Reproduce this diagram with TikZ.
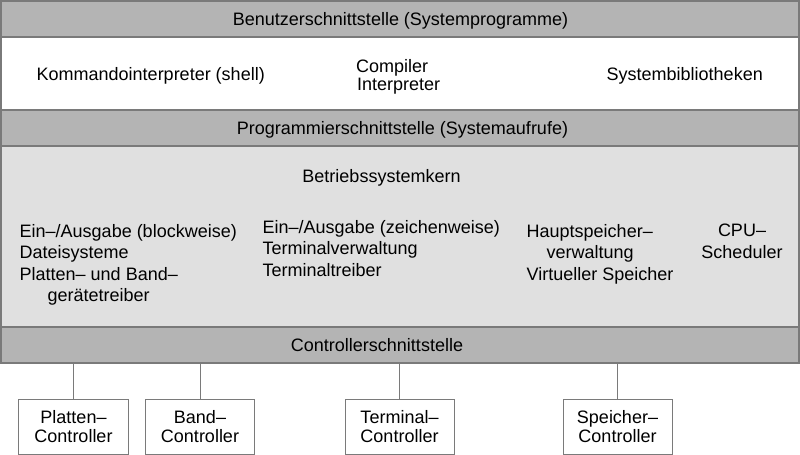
\documentclass[tikz,border=0pt]{standalone}
\usepackage{fontspec}
\setmainfont{Liberation Sans}
\definecolor{framegray}{HTML}{7A7A7A}
\definecolor{bandgray}{HTML}{B4B4B4}
\definecolor{kerngray}{HTML}{E0E0E0}
\newcommand{\lblfont}{\fontsize{18bp}{21.5bp}\selectfont}
\newcommand{\boxfont}{\fontsize{18bp}{19bp}\selectfont}
\newcommand{\pairfont}{\fontsize{18bp}{18bp}\selectfont}
\begin{document}
\begin{tikzpicture}[x=1bp,y=-1bp,
  layer/.style={draw=framegray, line width=1.5bp, minimum width=798bp, inner sep=0pt, anchor=center},
  band/.style={layer, fill=bandgray, minimum height=36bp},
  lbl/.style={inner sep=0pt, font=\lblfont},
  block/.style={inner sep=0pt, font=\lblfont, anchor=north west, align=left},
  ctrlbox/.style={draw=framegray, line width=1bp, fill=white, minimum width=109bp, minimum height=55bp, inner sep=0pt, align=center, font=\boxfont},
  link/.style={draw=framegray, line width=1bp}
]
\useasboundingbox (0,0) rectangle (800,455);

% layers of the system, top to bottom
\node[band] (user) at (400,19) {};
\node[layer, fill=white, minimum height=73bp] (tools) at (400,73.5) {};
\node[band] (api) at (400,128) {};
\node[layer, fill=kerngray, minimum height=181bp] (kern) at (400,236.5) {};
\node[band] (ctrl) at (400,345) {};

% layer titles
\node[lbl, anchor=base] (userlbl) at (400.5,26) {Benutzerschnittstelle (Systemprogramme)};
\node[lbl, anchor=base] (apilbl) at (402.5,135) {Programmierschnittstelle (Systemaufrufe)};
\node[lbl, anchor=base] (kernlbl) at (381.5,183) {Betriebssystemkern};
\node[lbl, anchor=base] (ctrllbl) at (377,352) {Controllerschnittstelle};

% system programs
\node[lbl, anchor=base west] (shell) at (36.5,81) {Kommandointerpreter (shell)};
\node[block, font=\pairfont] (comp) at (356,59) {Compiler\\\hspace*{1bp}Interpreter};
\node[lbl, anchor=base west] (libs) at (606.5,81) {Systembibliotheken};

% kernel components
\node[block] (blockio) at (19.5,224) {Ein–/Ausgabe (blockweise)\\Dateisysteme\\Platten– und Band–\\\hspace*{28bp}gerätetreiber};
\node[block] (chario) at (262.5,220) {Ein–/Ausgabe (zeichenweise)\\Terminalverwaltung\\Terminaltreiber};
\node[block] (mem) at (526.5,224) {Hauptspeicher–\\\hspace*{20bp}verwaltung\\Virtueller Speicher};
\node[block, align=center, anchor=north] (cpu) at (742,224) {CPU–\\Scheduler};

% device controllers
\node[ctrlbox] (disk) at (73.5,426.5) {Platten–\\Controller};
\node[ctrlbox] (tape) at (200,426.5) {Band–\\Controller};
\node[ctrlbox] (term) at (399.5,426.5) {Terminal–\\Controller};
\node[ctrlbox] (memc) at (617.5,426.5) {Speicher–\\Controller};

\foreach \c in {disk,tape,term,memc}
  \draw[link] (ctrl.south -| \c.north) -- (\c.north);
\end{tikzpicture}
\end{document}
